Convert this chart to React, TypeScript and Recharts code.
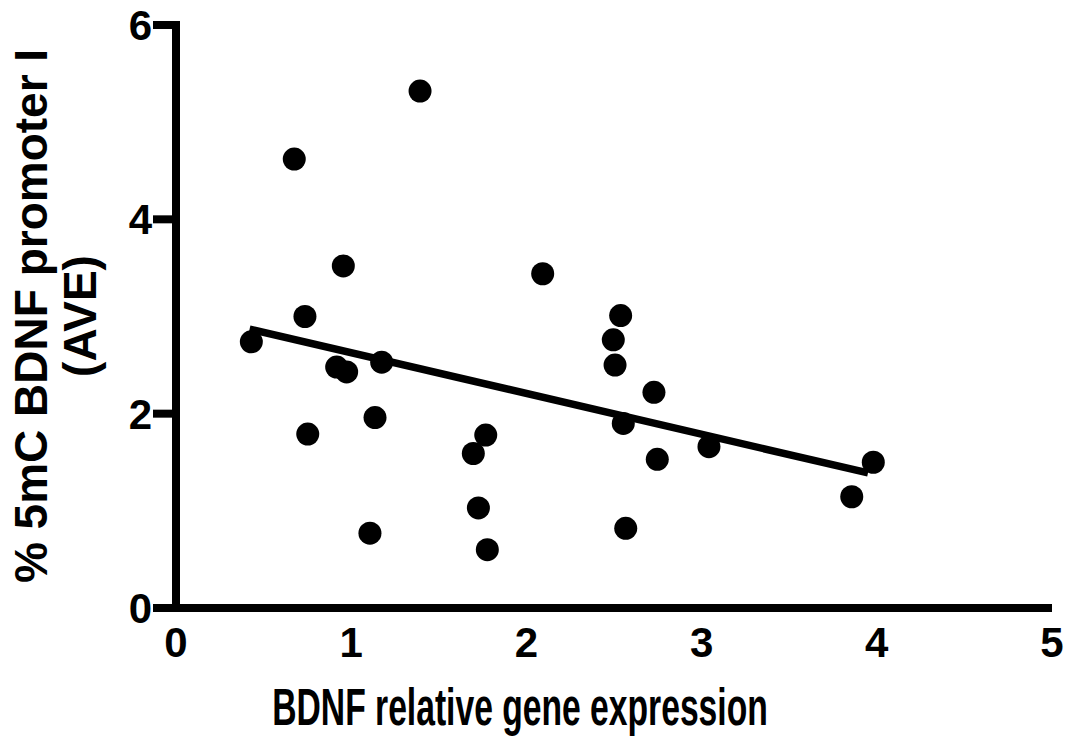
import React from 'react';
import { ScatterChart, Scatter, XAxis, YAxis, Label } from 'recharts';

// BDNF relative gene expression (x) vs % 5mC at BDNF promoter I (y)
const expressionX = [
  0.43, 0.675, 1.393, 0.736, 0.955, 0.752, 0.917, 0.974, 1.174, 1.136, 1.107, 2.093, 1.697,
  1.768, 1.726, 1.777, 2.538, 2.496, 2.506, 2.728, 2.553, 2.747, 3.042, 2.567, 3.857, 3.98,
];
const methylationY = [
  2.74, 4.62, 5.32, 3.0, 3.52, 1.79, 2.48, 2.43, 2.53, 1.96, 0.77, 3.44, 1.59,
  1.78, 1.03, 0.6, 3.01, 2.76, 2.5, 2.22, 1.9, 1.53, 1.66, 0.82, 1.145, 1.5,
];

// linear fit drawn across the data range
const fitX = [0.42, 3.95];
const fitY = [2.87, 1.39];

const xTicks = [0, 1, 2, 3, 4, 5];
const yTicks = [0, 2, 4, 6];

const points = expressionX.map((x, i) => ({ x, y: methylationY[i] }));
const fitLine = fitX.map((x, i) => ({ x, y: fitY[i] }));

const FONT = 'Arial, "Liberation Sans", Helvetica, sans-serif';

const Dot = (props: any) => <circle cx={props.cx} cy={props.cy} r={11.5} fill="#000" />;
const NoDot = () => <g />;

const XTitle = () => (
  <text
    transform="translate(520,725) scale(0.66,1)"
    textAnchor="middle"
    fontSize={51}
    fontWeight="bold"
    fontFamily={FONT}
    fill="#000"
  >
    BDNF relative gene expression
  </text>
);

const YTitle = () => (
  <text
    transform="translate(47,316) rotate(-90)"
    textAnchor="middle"
    fontSize={46}
    fontWeight="bold"
    fontFamily={FONT}
    fill="#000"
  >
    <tspan x={0} dy={0}>% 5mC BDNF promoter I</tspan>
    <tspan x={0} dy={49}>(AVE)</tspan>
  </text>
);

export default function App() {
  const tickStyle = { fill: '#000', fontSize: 42, fontWeight: 'bold', fontFamily: FONT };

  return (
    <div style={{ position: 'absolute', left: 0, top: 0 }}>
      <ScatterChart width={1069} height={749} margin={{ top: 25, right: 17, bottom: 0, left: 0 }}>
        <XAxis
          type="number"
          dataKey="x"
          domain={[0, 5]}
          ticks={xTicks}
          interval={0}
          allowDataOverflow
          height={141}
          axisLine={{ stroke: '#000', strokeWidth: 8 }}
          tickLine={false}
          tickSize={6}
          tickMargin={13}
          tick={tickStyle}
        >
          <Label content={XTitle} />
        </XAxis>
        <YAxis
          type="number"
          dataKey="y"
          domain={[0, 6]}
          ticks={yTicks}
          interval={0}
          allowDataOverflow
          width={176}
          axisLine={{ stroke: '#000', strokeWidth: 8, strokeLinecap: 'square' }}
          tickLine={{ stroke: '#000', strokeWidth: 8 }}
          tickSize={23}
          tickMargin={1}
          tick={tickStyle}
        >
          <Label content={YTitle} />
        </YAxis>
        <Scatter data={points} shape={Dot} fill="#000" isAnimationActive={false} />
        <Scatter
          data={fitLine}
          shape={NoDot}
          line={{ stroke: '#000', strokeWidth: 7.5 }}
          isAnimationActive={false}
        />
      </ScatterChart>
    </div>
  );
}
